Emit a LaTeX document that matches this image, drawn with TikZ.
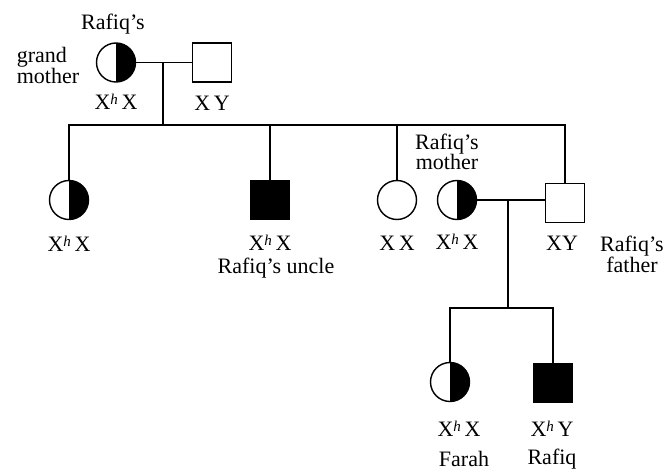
\documentclass[tikz,border=0pt]{standalone}
\usepackage{fontspec}
\setmainfont{Liberation Serif}
\newcommand{\hsup}{\raisebox{0.55ex}{\fontsize{15}{15}\selectfont\itshape h}}
\begin{document}
\begin{tikzpicture}[x=1pt,y=-1pt,
  lw/.style={line width=1.4pt},
  female/.style={circle, draw, lw, minimum size=39pt, inner sep=0pt},
  carrier/.style={female, path picture={\fill[black] (path picture bounding box.north) rectangle (path picture bounding box.south east);}},
  male/.style={rectangle, draw, lw, minimum size=39pt, inner sep=0pt},
  affected/.style={male, fill=black},
  lbl/.style={font=\fontsize{22}{20}\selectfont, inner sep=0pt, align=center},
  conn/.style={lw}]
\useasboundingbox (0,0) rectangle (667,474);
% generation I
\node[carrier] (gm) at (116,62.5) {};
\node[male] (gf) at (212,62.5) {};
\node[lbl] (gmname) at (113,24) {Rafiq’s};
\node[lbl, align=left] (gmlabel) at (48,65) {grand\\mother};
\node[lbl] (gmg) at (116,102) {X\hsup\,X};
\node[lbl] (gfg) at (212,103) {X\,Y};
\coordinate (m1) at (163,62.5);
\coordinate (s1) at (163,125);
\draw[conn] (gm.east) -- (gf.west);
\draw[conn] (m1) -- (s1);
% generation II
\node[carrier] (c1) at (69,200) {};
\node[affected] (c2) at (270,200) {};
\node[female] (c3) at (397,200) {};
\node[carrier] (mo) at (457,200) {};
\node[male] (fa) at (565,203) {};
\coordinate (l1) at (69,125);
\coordinate (l2) at (270,125);
\coordinate (l3) at (397,125);
\coordinate (l5) at (565,125);
\draw[conn] (c1.north) -- (l1) -- (l5) -- (fa.north);
\draw[conn] (l2) -- (c2.north);
\draw[conn] (l3) -- (c3.north);
\node[lbl] (g1) at (69,244) {X\hsup\,X};
\node[lbl] (g2) at (270,243) {X\hsup\,X};
\node[lbl] (u) at (276,268) {Rafiq’s uncle};
\node[lbl] (g3) at (397,243) {X\,X};
\node[lbl] (g4) at (457,242) {X\hsup\,X};
\node[lbl] (g5) at (562,243) {XY};
\node[lbl] (moname) at (447,152) {Rafiq’s\\mother};
\node[lbl] (faname) at (632,254) {Rafiq’s\\father};
\coordinate (m2) at (508,200);
\coordinate (s2) at (508,308);
\draw[conn] (mo.east) -- (m2) -- (fa.west |- m2);
\draw[conn] (m2) -- (s2);
% generation III
\node[carrier] (fr) at (450,382) {};
\node[affected] (rq) at (553,383) {};
\coordinate (k1) at (450,308);
\coordinate (k2) at (553,308);
\draw[conn] (fr.north) -- (k1) -- (k2) -- (rq.north);
\node[lbl] (g6) at (459,429) {X\hsup\,X};
\node[lbl] (g7) at (552,429) {X\hsup\,Y};
\node[lbl] (frname) at (464,459) {Farah};
\node[lbl] (rqname) at (552,459) {Rafiq};
\end{tikzpicture}
\end{document}
